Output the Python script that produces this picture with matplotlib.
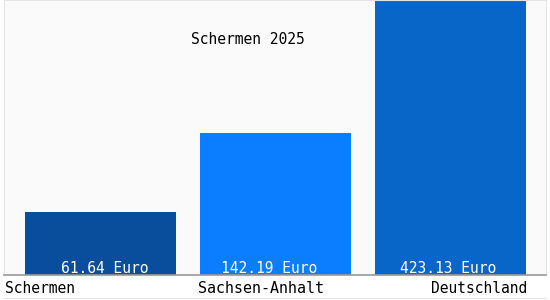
import numpy as np
import matplotlib.pyplot as plt
from matplotlib.lines import Line2D

# data
regions = ['Schermen', 'Sachsen-Anhalt', 'Deutschland']
values = [61.64, 142.19, 423.13]
colors = ['#084e9c', '#0b7dff', '#0866c9']
title = 'Schermen 2025'

mono = 'DejaVu Sans Mono'

fig = plt.figure(figsize=(5.5, 3), dpi=100)
fig.patch.set_facecolor('white')
ax = fig.add_axes([4/550, 25/300, 542/550, 275/300])
ax.set_facecolor('#fafafa')

# fourth-root scale, the source chart is not linear
ax.set_yscale('function', functions=(lambda v: np.abs(v)**0.25, lambda y: y**4))
x = np.arange(len(regions))
ax.bar(x, values, width=0.863, color=colors, zorder=2)
ax.set_ylim(27.5, 425)
ax.set_xlim(-0.551, 2.546)

ax.set_xticks([])
ax.set_yticks([])
ax.yaxis.set_minor_locator(plt.NullLocator())
for s in ['left', 'right', 'top']:
    ax.spines[s].set_color('#e4e4e4')
    ax.spines[s].set_linewidth(0.8)
ax.spines['bottom'].set_color('#999999')
ax.spines['bottom'].set_linewidth(1.2)

# value labels inside the bars (small shifts as in the source)
shift = [0.026, -0.037, -0.014]
for xi, v, d in zip(x, values, shift):
    ax.text(xi + d, -0.004, f'{v:.2f} Euro', transform=ax.get_xaxis_transform(),
            ha='center', va='bottom', color='white', fontsize=10.5, family=mono)

ax.text(0.45, 0.855, title, transform=ax.transAxes, ha='center', va='center',
        fontsize=10.5, family=mono, color='black')

# category labels under the axis
ax.text(-0.545, -0.048, regions[0], transform=ax.get_xaxis_transform(),
        ha='left', va='center', fontsize=10.5, family=mono)
ax.text(0.92, -0.048, regions[1], transform=ax.get_xaxis_transform(),
        ha='center', va='center', fontsize=10.8, family=mono)
ax.text(2.44, -0.048, regions[2], transform=ax.get_xaxis_transform(),
        ha='right', va='center', fontsize=10.5, family=mono)

fig.add_artist(Line2D([0.008, 0.993], [2/300, 2/300], color='#e4e4e4', lw=0.8))

fig.savefig('out.png', dpi=100)
